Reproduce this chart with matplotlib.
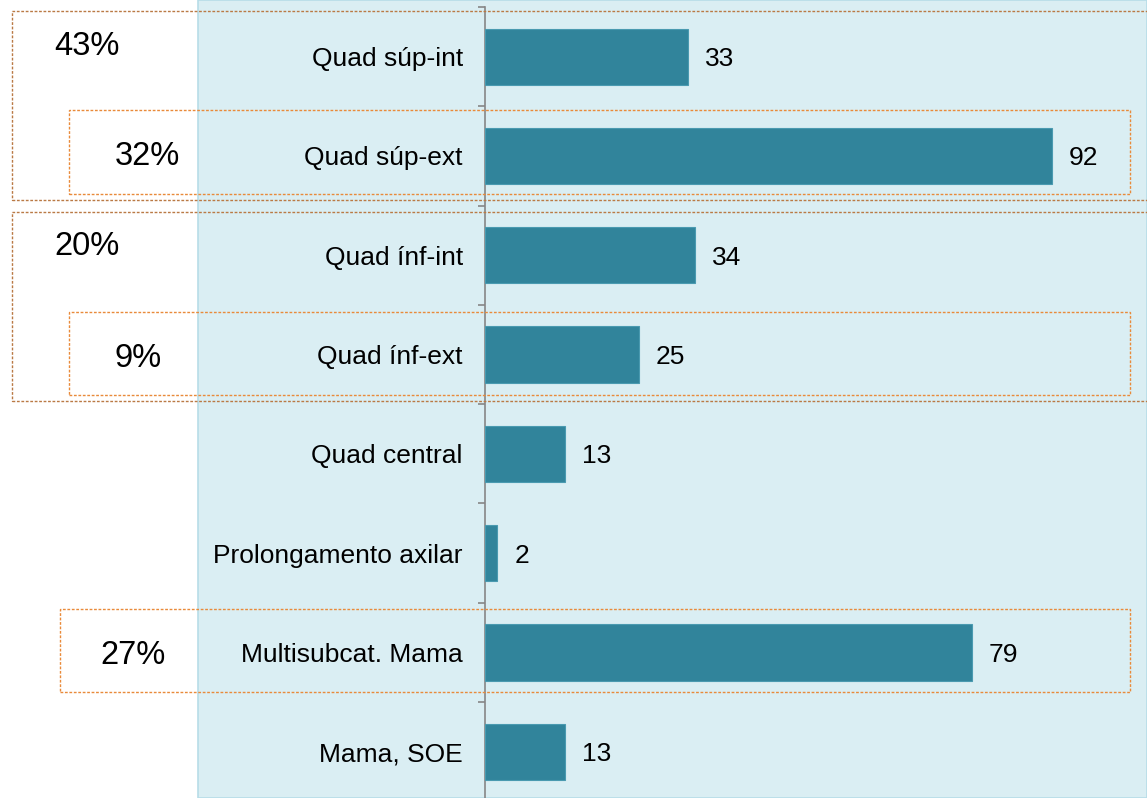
import matplotlib
matplotlib.use("Agg")
import matplotlib.pyplot as plt
from matplotlib.patches import Rectangle
import numpy as np

plt.rcParams['font.family'] = ['Liberation Sans', 'DejaVu Sans']

categories = ["Quad súp-int", "Quad súp-ext", "Quad ínf-int", "Quad ínf-ext",
              "Quad central", "Prolongamento axilar", "Multisubcat. Mama", "Mama, SOE"]
values = [33, 92, 34, 25, 13, 2, 79, 13]
group_labels = ["43%", "32%", "20%", "9%", "27%"]

W, H = 1147, 798
fig = plt.figure(figsize=(W / 100, H / 100), dpi=100)
fig.patch.set_facecolor('white')

# light-blue plot area background
fig.patches.append(Rectangle((198 / W, 0), 1 - 198 / W, 1, transform=fig.transFigure,
                             facecolor='#DAEEF3', edgecolor='#B7DDE8', linewidth=1.2, zorder=-5))

ax_left = 485 / W
ax_top = 1 - 7 / H
spacing = 99.3
ax_bottom = 1 - (7 + 8 * spacing) / H
ax = fig.add_axes([ax_left, ax_bottom, 1 - ax_left, ax_top - ax_bottom])
ax.set_facecolor('none')
ax.set_zorder(1)

y = np.arange(len(categories))
ax.barh(y, values, height=0.565, color='#31849B', edgecolor='#4A9AB0', linewidth=0.8, zorder=3)
ax.set_xlim(0, 107.4)
ax.set_ylim(len(categories) - 0.5, -0.5)

for yi, v in zip(y, values):
    ax.annotate(str(v), xy=(v, yi), xytext=(17, 0), textcoords='offset pixels',
                va='center_baseline', ha='left', fontsize=19, color='black')

ax.set_yticks(y)
ax.set_yticklabels(categories, fontsize=19)
ax.tick_params(axis='y', which='major', length=0, pad=16)
ax.set_yticks(np.arange(-0.5, len(categories) - 0.5, 1), minor=True)
ax.tick_params(axis='y', which='minor', length=5, width=1.2, color='#868686', direction='out')
ax.set_xticks([])
for s in ['top', 'right', 'bottom']:
    ax.spines[s].set_visible(False)
ax.spines['left'].set_color('#868686')
ax.spines['left'].set_linewidth(1.2)

# dotted grouping boxes (pixel coordinates: x0, y0_top, x1, y1_bottom)
outer_c = '#BA7A45'
inner_c = '#E98A3A'
boxes = [
    (12, 11, 1160, 200, outer_c),
    (69, 110, 1130, 194, inner_c),
    (12, 212, 1160, 401, outer_c),
    (69, 312, 1130, 395, inner_c),
    (60, 609, 1130, 692, inner_c),
]
for x0, y0, x1, y1, c in boxes:
    fig.patches.append(Rectangle((x0 / W, 1 - y1 / H), (x1 - x0) / W, (y1 - y0) / H,
                                 transform=fig.transFigure, fill=False, edgecolor=c,
                                 linewidth=1.0, linestyle=(0, (2, 1.2)), zorder=5))

label_pos = [(54, 43), (115, 153), (54, 243), (115, 355), (100, 652)]
for txt, (px, py) in zip(group_labels, label_pos):
    fig.text(px / W, 1 - py / H, txt, ha='left', va='center_baseline', fontsize=23.5, color='black')

fig.savefig('out.png', dpi=100)
